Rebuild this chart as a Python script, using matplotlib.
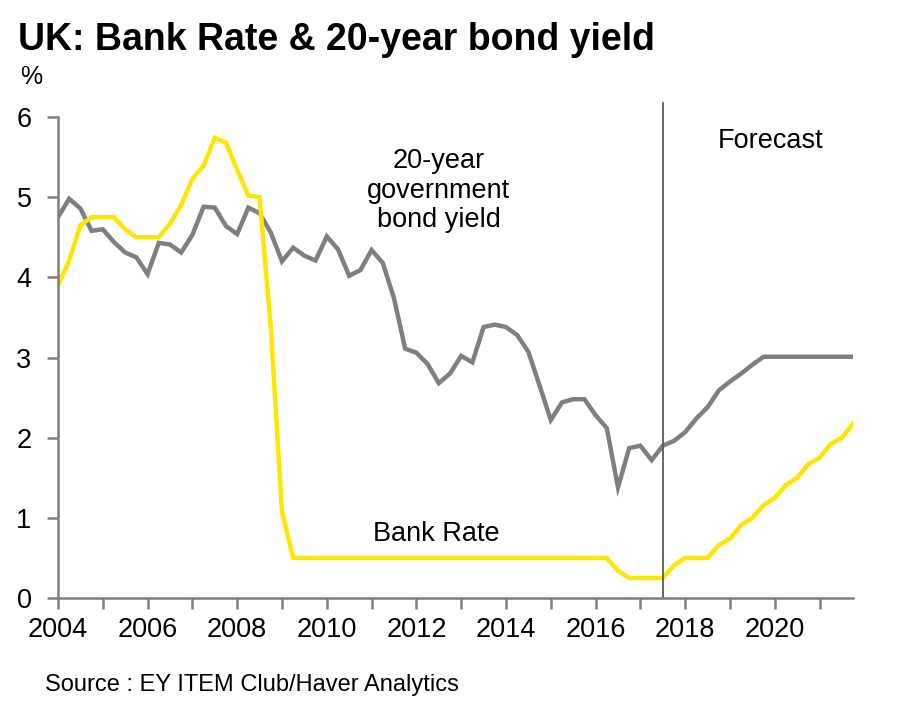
import numpy as np
import matplotlib
matplotlib.use("Agg")
import matplotlib.pyplot as plt

plt.rcParams['font.family'] = ['Liberation Sans', 'DejaVu Sans']

# quarterly, 2004 Q1 .. 2021 Q4
quarters = 2004 + np.arange(72) / 4

# 20-year government bond yield (%)
gilt_20y = [4.75, 4.98, 4.86, 4.58, 4.60, 4.44, 4.31, 4.25,
            4.04, 4.43, 4.41, 4.31, 4.53, 4.88, 4.87, 4.64,
            4.54, 4.87, 4.80, 4.56, 4.20, 4.37, 4.27, 4.21,
            4.51, 4.35, 4.02, 4.09, 4.34, 4.18, 3.74, 3.11,
            3.06, 2.92, 2.68, 2.80, 3.02, 2.94, 3.38, 3.41,
            3.38, 3.28, 3.07, 2.65, 2.22, 2.44, 2.48, 2.48,
            2.28, 2.12, 1.38, 1.87, 1.90, 1.72, 1.90, 1.96,
            2.07, 2.24, 2.38, 2.59, 2.70, 2.80, 2.91, 3.01,
            3.01, 3.01, 3.01, 3.01, 3.01, 3.01, 3.01, 3.01]

# Bank Rate (%)
bank_rate = [3.90, 4.21, 4.65, 4.75, 4.75, 4.75, 4.60, 4.50,
             4.50, 4.50, 4.67, 4.90, 5.23, 5.39, 5.74, 5.68,
             5.34, 5.02, 5.00, 3.38, 1.08, 0.50, 0.50, 0.50,
             0.50, 0.50, 0.50, 0.50, 0.50, 0.50, 0.50, 0.50,
             0.50, 0.50, 0.50, 0.50, 0.50, 0.50, 0.50, 0.50,
             0.50, 0.50, 0.50, 0.50, 0.50, 0.50, 0.50, 0.50,
             0.50, 0.50, 0.34, 0.25, 0.25, 0.25, 0.25, 0.41,
             0.50, 0.50, 0.50, 0.66, 0.74, 0.91, 1.00, 1.16,
             1.25, 1.41, 1.50, 1.67, 1.75, 1.92, 2.00, 2.18]

forecast_start = 2017.5
xticks_major = [2004, 2006, 2008, 2010, 2012, 2014, 2016, 2018, 2020]

grey = '#7f7f7f'
yellow = '#ffe600'

fig = plt.figure(figsize=(9, 7.2), dpi=100)
ax = fig.add_axes([0.0644, 0.1694, 0.8836, 0.6681])

ax.plot(quarters, gilt_20y, color=grey, lw=3.2, solid_joinstyle='miter')
ax.plot(quarters, bank_rate, color=yellow, lw=3.2, solid_joinstyle='miter')
ax.axvline(forecast_start, ymin=0, ymax=1.03, color='#595959', lw=1.3, clip_on=False)

ax.set_xlim(2004, 2021.75)
ax.set_ylim(0, 6)
ax.set_yticks(range(7))
ax.set_xticks(xticks_major)
ax.set_xticks(range(2005, 2022, 2), minor=True)

for s in ['top', 'right']:
    ax.spines[s].set_visible(False)
for s in ['left', 'bottom']:
    ax.spines[s].set_color(grey)
    ax.spines[s].set_linewidth(1.8)

ax.tick_params(axis='both', which='both', direction='out', length=8, width=1.8,
               color=grey, labelsize=19.5, labelcolor='black')
ax.tick_params(axis='y', pad=11)
ax.tick_params(axis='x', pad=6)

ax.text(2012.5, 5.08, '20-year\ngovernment\nbond yield', ha='center', va='center',
        fontsize=19.5, linespacing=1.18)
ax.text(2019.9, 5.7, 'Forecast', ha='center', va='center', fontsize=19.5)
ax.text(2012.45, 0.8, 'Bank Rate', ha='center', va='center', fontsize=19.5)

fig.text(0.02, 0.944, 'UK: Bank Rate & 20-year bond yield', fontsize=27,
         fontweight='bold', va='center')
fig.text(0.022, 0.893, '%', fontsize=18, va='center')
fig.text(0.05, 0.049, 'Source : EY ITEM Club/Haver Analytics', fontsize=17, va='center')

fig.savefig('out.png', dpi=100, facecolor='white')
